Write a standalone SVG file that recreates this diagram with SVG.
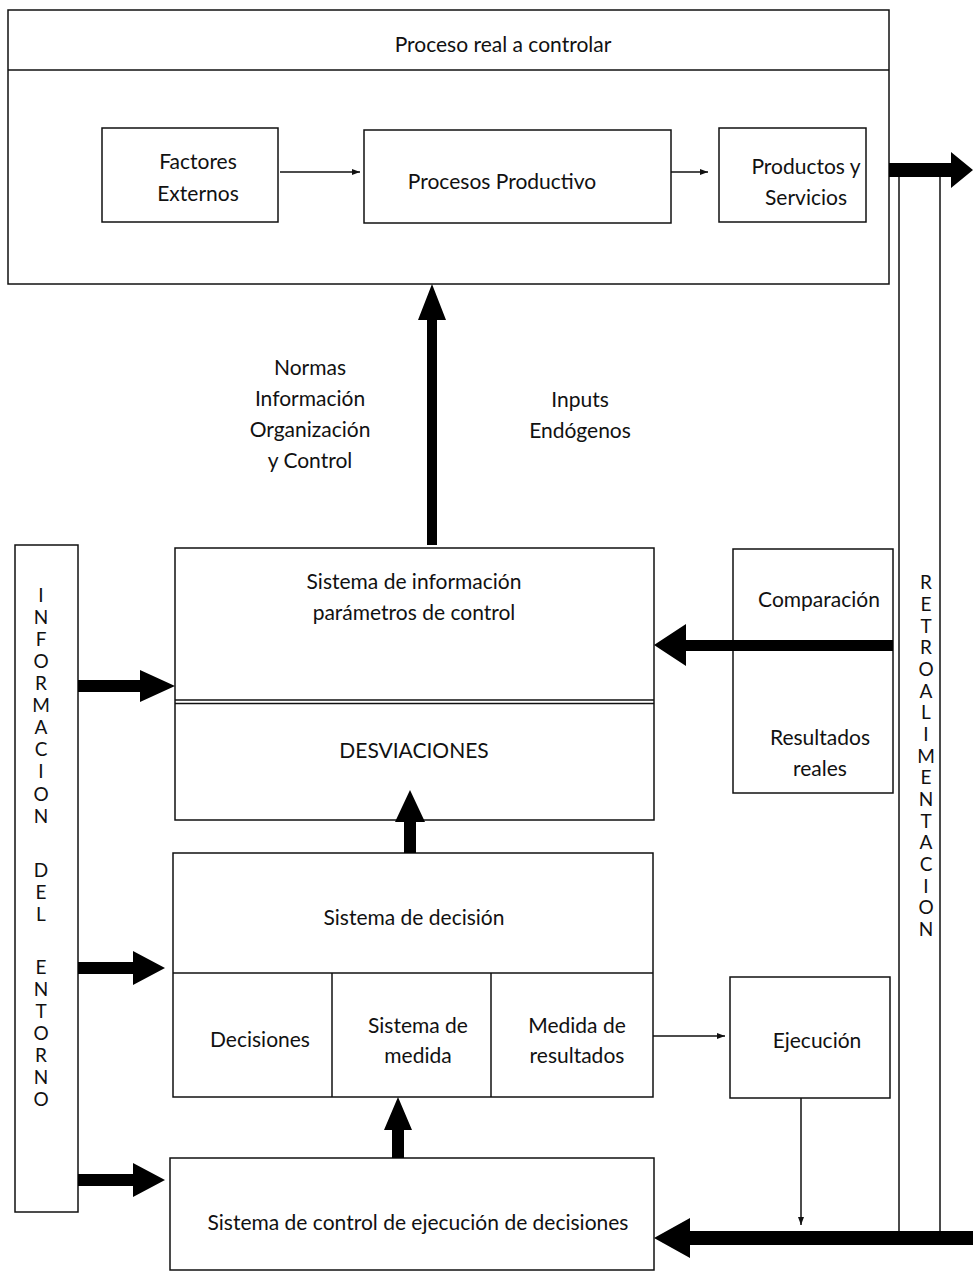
<svg xmlns="http://www.w3.org/2000/svg" width="973" height="1281" viewBox="0 0 973 1281">
<style>
.box{fill:none;stroke:#111;stroke-width:1.5}
.ln{stroke:#111;stroke-width:1.5;fill:none}
.t{font-family:Lato,"Open Sans",sans-serif;font-size:21px;fill:#111;text-anchor:middle}
.v{font-family:Lato,"Open Sans",sans-serif;font-size:19px;fill:#111;text-anchor:middle}
.thick{fill:#000}
</style>
<defs>
<marker id="ah" markerWidth="8" markerHeight="6" refX="8" refY="3" orient="auto" markerUnits="userSpaceOnUse">
<path d="M0,0 L8,3 L0,6 Z" fill="#111"/>
</marker>
</defs>
<rect width="973" height="1281" fill="#fff"/>

<g id="proceso-real">
<rect class="box" x="8" y="10" width="881" height="274"/>
<line class="ln" x1="8" y1="70" x2="889" y2="70"/>
<text class="t" x="503" y="52">Proceso real a controlar</text>
</g>
<g id="factores">
<rect class="box" x="102" y="128" width="176" height="94"/>
<text class="t" x="198" y="169">Factores</text>
<text class="t" x="198" y="201">Externos</text>
</g>
<g id="procesos">
<rect class="box" x="364" y="130" width="307" height="93"/>
<text class="t" x="502" y="189">Procesos Productivo</text>
</g>
<g id="productos">
<rect class="box" x="719" y="128" width="147" height="94"/>
<text class="t" x="806" y="174">Productos y</text>
<text class="t" x="806" y="205">Servicios</text>
</g>

<g id="normas-label">
<text class="t" x="310" y="375">Normas</text>
<text class="t" x="310" y="406">Información</text>
<text class="t" x="310" y="437">Organización</text>
<text class="t" x="310" y="468">y Control</text>
</g>
<g id="inputs-label">
<text class="t" x="580" y="407">Inputs</text>
<text class="t" x="580" y="438">Endógenos</text>
</g>

<g id="info-entorno">
<rect class="box" x="15" y="545" width="63" height="667"/>
<text class="v" x="41" y="602">I</text>
<text class="v" x="41" y="624">N</text>
<text class="v" x="41" y="646">F</text>
<text class="v" x="41" y="668">O</text>
<text class="v" x="41" y="690">R</text>
<text class="v" x="41" y="712">M</text>
<text class="v" x="41" y="734">A</text>
<text class="v" x="41" y="756">C</text>
<text class="v" x="41" y="778">I</text>
<text class="v" x="41" y="801">O</text>
<text class="v" x="41" y="823">N</text>
<text class="v" x="41" y="877">D</text>
<text class="v" x="41" y="899">E</text>
<text class="v" x="41" y="921">L</text>
<text class="v" x="41" y="974">E</text>
<text class="v" x="41" y="996">N</text>
<text class="v" x="41" y="1018">T</text>
<text class="v" x="41" y="1040">O</text>
<text class="v" x="41" y="1062">R</text>
<text class="v" x="41" y="1084">N</text>
<text class="v" x="41" y="1106">O</text>
</g>

<g id="retroalimentacion">
<rect class="box" x="899" y="176" width="41" height="1056"/>
<text class="v" x="926" y="589">R</text>
<text class="v" x="926" y="611">E</text>
<text class="v" x="926" y="633">T</text>
<text class="v" x="926" y="654">R</text>
<text class="v" x="926" y="676">O</text>
<text class="v" x="926" y="698">A</text>
<text class="v" x="926" y="719">L</text>
<text class="v" x="926" y="741">I</text>
<text class="v" x="926" y="763">M</text>
<text class="v" x="926" y="784">E</text>
<text class="v" x="926" y="806">N</text>
<text class="v" x="926" y="828">T</text>
<text class="v" x="926" y="849">A</text>
<text class="v" x="926" y="871">C</text>
<text class="v" x="926" y="893">I</text>
<text class="v" x="926" y="914">O</text>
<text class="v" x="926" y="936">N</text>
</g>

<g id="sistema-informacion">
<rect class="box" x="175" y="548" width="479" height="272"/>
<line class="ln" x1="175" y1="700" x2="654" y2="700"/>
<line class="ln" x1="175" y1="703.5" x2="654" y2="703.5"/>
<text class="t" x="414" y="589">Sistema de información</text>
<text class="t" x="414" y="620">parámetros de control</text>
<text class="t" x="414" y="758">DESVIACIONES</text>
</g>

<g id="comparacion">
<rect class="box" x="733" y="549" width="160" height="244"/>
<text class="t" x="819" y="607">Comparación</text>
<text class="t" x="820" y="745">Resultados</text>
<text class="t" x="820" y="776">reales</text>
</g>

<g id="sistema-decision">
<rect class="box" x="173" y="853" width="480" height="244"/>
<line class="ln" x1="173" y1="973" x2="653" y2="973"/>
<line class="ln" x1="332" y1="973" x2="332" y2="1097"/>
<line class="ln" x1="491" y1="973" x2="491" y2="1097"/>
<text class="t" x="414" y="925">Sistema de decisión</text>
<text class="t" x="260" y="1047">Decisiones</text>
<text class="t" x="418" y="1033">Sistema de</text>
<text class="t" x="418" y="1063">medida</text>
<text class="t" x="577" y="1033">Medida de</text>
<text class="t" x="577" y="1063">resultados</text>
</g>

<g id="ejecucion">
<rect class="box" x="730" y="977" width="160" height="121"/>
<text class="t" x="817" y="1048">Ejecución</text>
</g>

<g id="control-ejecucion">
<rect class="box" x="170" y="1158" width="484" height="112"/>
<text class="t" x="418" y="1230">Sistema de control de ejecución de decisiones</text>
</g>

<g id="connectors">
<line class="ln" x1="280" y1="172" x2="360" y2="172" stroke-width="2.5" marker-end="url(#ah)"/>
<line class="ln" x1="671" y1="172" x2="708" y2="172" stroke-width="2.5" marker-end="url(#ah)"/>
<path class="thick" d="M889,163 L951,163 L951,152 L973,170 L951,188 L951,177 L889,177 Z"/>
<path class="thick" d="M427,545 L427,320 L418,320 L432,284 L446,320 L437,320 L437,545 Z"/>
<path class="thick" d="M893,640 L686,640 L686,624 L654,645 L686,666 L686,651 L893,651 Z"/>
<path class="thick" d="M78,680 L140,680 L140,670 L175,686 L140,702 L140,692 L78,692 Z"/>
<path class="thick" d="M78,962 L133,962 L133,951 L165,968 L133,985 L133,974 L78,974 Z"/>
<path class="thick" d="M78,1174 L133,1174 L133,1163 L165,1180 L133,1197 L133,1186 L78,1186 Z"/>
<path class="thick" d="M404,853 L404,822 L395,822 L410,790 L425,822 L416,822 L416,853 Z"/>
<path class="thick" d="M392,1158 L392,1130 L384,1130 L398,1097 L412,1130 L404,1130 L404,1158 Z"/>
<path class="thick" d="M973,1231 L690,1231 L690,1218 L654,1238 L690,1258 L690,1245 L973,1245 Z"/>
<line class="ln" x1="653" y1="1036" x2="725" y2="1036" stroke-width="2.5" marker-end="url(#ah)"/>
<line class="ln" x1="801" y1="1098" x2="801" y2="1225" marker-end="url(#ah)"/>
</g>
</svg>
